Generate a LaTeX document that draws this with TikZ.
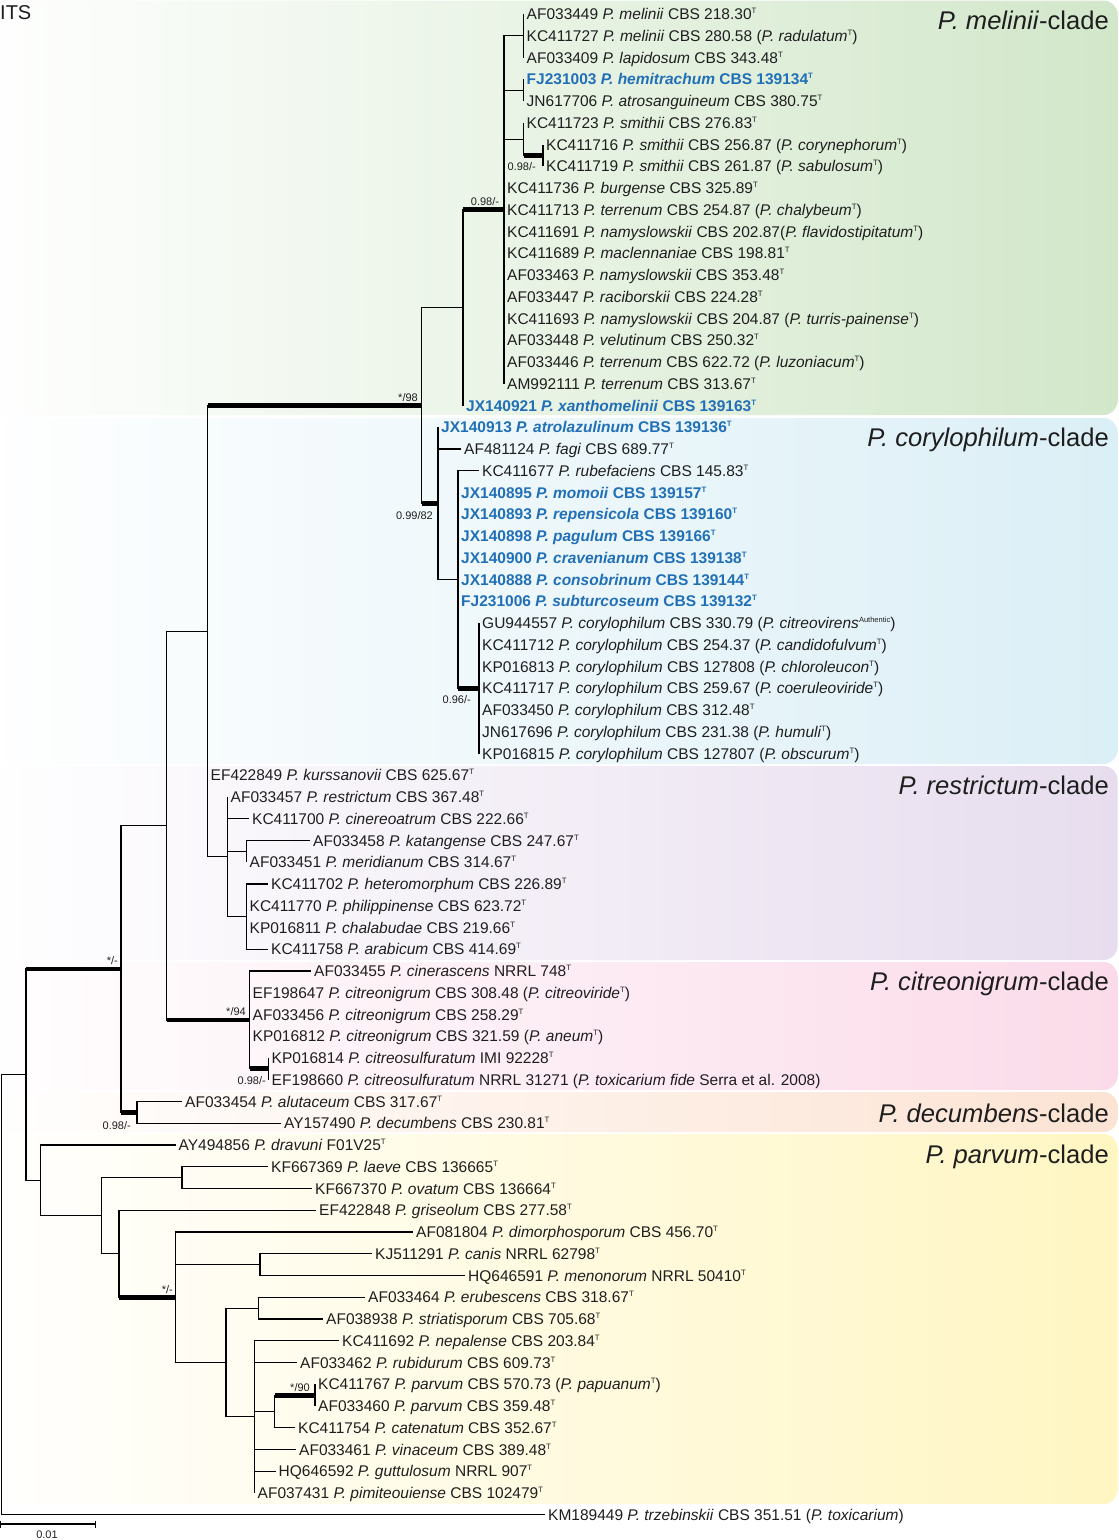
\documentclass[tikz,border=0pt]{standalone}
\usepackage{fontspec}
\setmainfont{Liberation Sans}
\definecolor{tblue}{RGB}{33,112,183}
\definecolor{ink}{RGB}{30,30,30}
\definecolor{cMel}{RGB}{210,231,202}
\definecolor{cCor}{RGB}{219,239,246}
\definecolor{cRes}{RGB}{231,221,238}
\definecolor{cCit}{RGB}{251,219,233}
\definecolor{cDec}{RGB}{252,227,211}
\definecolor{cPar}{RGB}{255,246,194}
\newcommand{\Ty}{\raisebox{5.9pt}{\fontsize{7.8}{8}\selectfont T}}
\newcommand{\Au}{\raisebox{5.9pt}{\fontsize{7.5}{8}\selectfont Authentic}}
\newcommand{\lfont}{\fontsize{15.5}{18}\selectfont}
\newcommand{\thk}[2]{\draw[br] (#1) |- (#2); \draw[tb] (#1 |- #2) -- (#2);}
\begin{document}
\begin{tikzpicture}[x=1pt,y=-1pt,
 leaf/.style={anchor=west, inner xsep=3pt, inner ysep=0pt, text height=11.1pt, text depth=0pt, font=\lfont, text=ink},
 nleaf/.style={leaf, text=tblue, font=\lfont\bfseries},
 br/.style={line width=1.1pt, draw=black},
 tb/.style={line width=4.8pt, draw=black},
 supp/.style={font=\fontsize{11}{12}\selectfont, inner sep=0pt, text=ink},
 clab/.style={anchor=base east, font=\fontsize{25.6}{28}\selectfont, inner sep=0pt, text=ink},
 panel/.style={rounded corners=14pt}]
\useasboundingbox (0,0) rectangle (1119,1540);
\fill[white] (0,0) rectangle (1119,1540);
% clade panels
\shade[panel, left color=white, right color=cMel] (-30,0.5) rectangle (1117.5,415);
\shade[panel, left color=white, right color=cCor] (-30,418) rectangle (1117.5,764);
\shade[panel, left color=white, right color=cRes] (-30,766) rectangle (1117.5,960);
\shade[panel, left color=white, right color=cCit] (-30,962) rectangle (1117.5,1090);
\shade[panel, left color=white, right color=cDec] (-30,1092) rectangle (1117.5,1132);
\shade[panel, left color=white, right color=cPar] (-30,1134) rectangle (1117.5,1504);
% clade labels
\node[clab] (kMel) at (1109,29.8) {\textit{P. melinii}-clade};
\node[clab] (kCor) at (1109,446.8) {\textit{P. corylophilum}-clade};
\node[clab] (kRes) at (1109,794.8) {\textit{P. restrictum}-clade};
\node[clab] (kCit) at (1109,990.8) {\textit{P. citreonigrum}-clade};
\node[clab] (kDec) at (1109,1122.8) {\textit{P. decumbens}-clade};
\node[clab] (kPar) at (1109,1163.8) {\textit{P. parvum}-clade};
\node[anchor=west, inner sep=0pt, font=\fontsize{20}{22}\selectfont, text=ink] (its) at (0,12.5) {ITS};
% leaves
\node[leaf] (l1) at (523.5,14) {AF033449 \textit{P. melinii} CBS 218.30\Ty};
\node[leaf] (l2) at (523.5,35.75) {KC411727 \textit{P. melinii} CBS 280.58 (\textit{P. radulatum}\Ty)};
\node[leaf] (l3) at (523.5,57.5) {AF033409 \textit{P. lapidosum} CBS 343.48\Ty};
\node[nleaf] (l4) at (523.5,79.25) {FJ231003 \textit{P. hemitrachum} CBS 139134\Ty};
\node[leaf] (l5) at (523.5,101) {JN617706 \textit{P. atrosanguineum} CBS 380.75\Ty};
\node[leaf] (l6) at (523.5,122.75) {KC411723 \textit{P. smithii} CBS 276.83\Ty};
\node[leaf] (l7) at (543,144.5) {KC411716 \textit{P. smithii} CBS 256.87 (\textit{P. corynephorum}\Ty)};
\node[leaf] (l8) at (543,166.25) {KC411719 \textit{P. smithii} CBS 261.87 (\textit{P. sabulosum}\Ty)};
\node[leaf] (l9) at (504,188) {KC411736 \textit{P. burgense} CBS 325.89\Ty};
\node[leaf] (l10) at (504,209.75) {KC411713 \textit{P. terrenum} CBS 254.87 (\textit{P. chalybeum}\Ty)};
\node[leaf] (l11) at (504,231.5) {KC411691 \textit{P. namyslowskii} CBS 202.87(\textit{P. flavidostipitatum}\Ty)};
\node[leaf] (l12) at (504,253.25) {KC411689 \textit{P. maclennaniae} CBS 198.81\Ty};
\node[leaf] (l13) at (504,275) {AF033463 \textit{P. namyslowskii} CBS 353.48\Ty};
\node[leaf] (l14) at (504,296.75) {AF033447 \textit{P. raciborskii} CBS 224.28\Ty};
\node[leaf] (l15) at (504,318.5) {KC411693 \textit{P. namyslowskii} CBS 204.87 (\textit{P. turris-painense}\Ty)};
\node[leaf] (l16) at (504,340.25) {AF033448 \textit{P. velutinum} CBS 250.32\Ty};
\node[leaf] (l17) at (504,362) {AF033446 \textit{P. terrenum} CBS 622.72 (\textit{P. luzoniacum}\Ty)};
\node[leaf] (l18) at (504,383.75) {AM992111 \textit{P. terrenum} CBS 313.67\Ty};
\node[nleaf] (l19) at (463,405.5) {JX140921 \textit{P. xanthomelinii} CBS 139163\Ty};
\node[nleaf] (l20) at (438,427.25) {JX140913 \textit{P. atrolazulinum} CBS 139136\Ty};
\node[leaf] (l21) at (461,449) {AF481124 \textit{P. fagi} CBS 689.77\Ty};
\node[leaf] (l22) at (479,470.75) {KC411677 \textit{P. rubefaciens} CBS 145.83\Ty};
\node[nleaf] (l23) at (458,492.5) {JX140895 \textit{P. momoii} CBS 139157\Ty};
\node[nleaf] (l24) at (458,514.25) {JX140893 \textit{P. repensicola} CBS 139160\Ty};
\node[nleaf] (l25) at (458,536) {JX140898 \textit{P. pagulum} CBS 139166\Ty};
\node[nleaf] (l26) at (458,557.75) {JX140900 \textit{P. cravenianum} CBS 139138\Ty};
\node[nleaf] (l27) at (458,579.5) {JX140888 \textit{P. consobrinum} CBS 139144\Ty};
\node[nleaf] (l28) at (458,601.25) {FJ231006 \textit{P. subturcoseum} CBS 139132\Ty};
\node[leaf] (l29) at (479,623) {GU944557 \textit{P. corylophilum} CBS 330.79 (\textit{P. citreovirens}\Au)};
\node[leaf] (l30) at (479,644.75) {KC411712 \textit{P. corylophilum} CBS 254.37 (\textit{P. candidofulvum}\Ty)};
\node[leaf] (l31) at (479,666.5) {KP016813 \textit{P. corylophilum} CBS 127808 (\textit{P. chloroleucon}\Ty)};
\node[leaf] (l32) at (479,688.25) {KC411717 \textit{P. corylophilum} CBS 259.67 (\textit{P. coeruleoviride}\Ty)};
\node[leaf] (l33) at (479,710) {AF033450 \textit{P. corylophilum} CBS 312.48\Ty};
\node[leaf] (l34) at (479,731.75) {JN617696 \textit{P. corylophilum} CBS 231.38 (\textit{P. humuli}\Ty)};
\node[leaf] (l35) at (479,753.5) {KP016815 \textit{P. corylophilum} CBS 127807 (\textit{P. obscurum}\Ty)};
\node[leaf] (l36) at (207.5,775.25) {EF422849 \textit{P. kurssanovii} CBS 625.67\Ty};
\node[leaf] (l37) at (227.5,797) {AF033457 \textit{P. restrictum} CBS 367.48\Ty};
\node[leaf] (l38) at (249,818.75) {KC411700 \textit{P. cinereoatrum} CBS 222.66\Ty};
\node[leaf] (l39) at (310,840.5) {AF033458 \textit{P. katangense} CBS 247.67\Ty};
\node[leaf] (l40) at (246.5,862.25) {AF033451 \textit{P. meridianum} CBS 314.67\Ty};
\node[leaf] (l41) at (268,884) {KC411702 \textit{P. heteromorphum} CBS 226.89\Ty};
\node[leaf] (l42) at (246.5,905.75) {KC411770 \textit{P. philippinense} CBS 623.72\Ty};
\node[leaf] (l43) at (246.5,927.5) {KP016811 \textit{P. chalabudae} CBS 219.66\Ty};
\node[leaf] (l44) at (268,949.25) {KC411758 \textit{P. arabicum} CBS 414.69\Ty};
\node[leaf] (l45) at (311,971) {AF033455 \textit{P. cinerascens} NRRL 748\Ty};
\node[leaf] (l46) at (249.5,992.75) {EF198647 \textit{P. citreonigrum} CBS 308.48 (\textit{P. citreoviride}\Ty)};
\node[leaf] (l47) at (249.5,1014.5) {AF033456 \textit{P. citreonigrum} CBS 258.29\Ty};
\node[leaf] (l48) at (249.5,1036.25) {KP016812 \textit{P. citreonigrum} CBS 321.59 (\textit{P. aneum}\Ty)};
\node[leaf] (l49) at (268.5,1058) {KP016814 \textit{P. citreosulfuratum} IMI 92228\Ty};
\node[leaf] (l50) at (268.5,1079.75) {EF198660 \textit{P. citreosulfuratum} NRRL 31271 (\textit{P. toxicarium fide} Serra et al. 2008)};
\node[leaf] (l51) at (182,1101.5) {AF033454 \textit{P. alutaceum} CBS 317.67\Ty};
\node[leaf] (l52) at (281,1123.25) {AY157490 \textit{P. decumbens} CBS 230.81\Ty};
\node[leaf] (l53) at (175.5,1145) {AY494856 \textit{P. dravuni} F01V25\Ty};
\node[leaf] (l54) at (268,1166.75) {KF667369 \textit{P. laeve} CBS 136665\Ty};
\node[leaf] (l55) at (312,1188.5) {KF667370 \textit{P. ovatum} CBS 136664\Ty};
\node[leaf] (l56) at (316,1210.25) {EF422848 \textit{P. griseolum} CBS 277.58\Ty};
\node[leaf] (l57) at (413,1232) {AF081804 \textit{P. dimorphosporum} CBS 456.70\Ty};
\node[leaf] (l58) at (372,1253.75) {KJ511291 \textit{P. canis} NRRL 62798\Ty};
\node[leaf] (l59) at (465,1275.5) {HQ646591 \textit{P. menonorum} NRRL 50410\Ty};
\node[leaf] (l60) at (365,1297.25) {AF033464 \textit{P. erubescens} CBS 318.67\Ty};
\node[leaf] (l61) at (323,1319) {AF038938 \textit{P. striatisporum} CBS 705.68\Ty};
\node[leaf] (l62) at (339,1340.75) {KC411692 \textit{P. nepalense} CBS 203.84\Ty};
\node[leaf] (l63) at (297,1362.5) {AF033462 \textit{P. rubidurum} CBS 609.73\Ty};
\node[leaf] (l64) at (315,1384.25) {KC411767 \textit{P. parvum} CBS 570.73 (\textit{P. papuanum}\Ty)};
\node[leaf] (l65) at (315,1406) {AF033460 \textit{P. parvum} CBS 359.48\Ty};
\node[leaf] (l66) at (295,1427.75) {KC411754 \textit{P. catenatum} CBS 352.67\Ty};
\node[leaf] (l67) at (296,1449.5) {AF033461 \textit{P. vinaceum} CBS 389.48\Ty};
\node[leaf] (l68) at (275.5,1471.25) {HQ646592 \textit{P. guttulosum} NRRL 907\Ty};
\node[leaf] (l69) at (254.5,1493) {AF037431 \textit{P. pimiteouiense} CBS 102479\Ty};
\node[leaf] (l70) at (545,1514.75) {KM189449 \textit{P. trzebinskii} CBS 351.51 (\textit{P. toxicarium})};
% internal nodes
\coordinate (mA) at (523.5,35.75);
\coordinate (mB) at (523.5,90.125);
\coordinate (mD) at (543,155.375);
\coordinate (mC) at (523.5,139.06);
\coordinate (mP) at (504,209.75);
\coordinate (mM) at (463,307.625);
\coordinate (cE) at (479,688.25);
\coordinate (cD) at (458,579.5);
\coordinate (cC) at (438,503.375);
\coordinate (cB) at (421.5,405.5);
\coordinate (rA) at (246.5,851.375);
\coordinate (rB) at (246.5,916.625);
\coordinate (rR) at (227.5,856.81);
\coordinate (n1) at (207.5,631.16);
\coordinate (tB) at (268.5,1068.875);
\coordinate (tA) at (249.5,1019.94);
\coordinate (n2) at (166.5,825.55);
\coordinate (dA) at (137,1112.375);
\coordinate (n3) at (121,968.96);
\coordinate (pB) at (182,1177.625);
\coordinate (pF) at (260,1264.625);
\coordinate (pI) at (315,1395.125);
\coordinate (pH) at (274.5,1411.44);
\coordinate (pG2) at (258.5,1308.125);
\coordinate (pJ) at (254.5,1416.875);
\coordinate (pG) at (226,1362.5);
\coordinate (pE) at (175.5,1297.25);
\coordinate (pD) at (119,1253.75);
\coordinate (pC) at (101.5,1215.69);
\coordinate (pA) at (40.5,1180.34);
\coordinate (n4) at (26,1074.65);
\coordinate (root) at (1.5,1294.7);
% branches to leaves
\foreach \c in {l1,l2,l3} \draw[br] (mA) |- (\c.west);
\foreach \c in {l4,l5} \draw[br] (mB) |- (\c.west);
\draw[br] (mC) |- (l6.west);
\foreach \c in {l7,l8} \draw[br] (mD) |- (\c.west);
\foreach \c in {l9,l10,l11,l12,l13,l14,l15,l16,l17,l18} \draw[br] (mP) |- (\c.west);
\draw[br] (mM) |- (l19.west);
\foreach \c in {l20,l21} \draw[br] (cC) |- (\c.west);
\foreach \c in {l22,l23,l24,l25,l26,l27,l28} \draw[br] (cD) |- (\c.west);
\foreach \c in {l29,l30,l31,l32,l33,l34,l35} \draw[br] (cE) |- (\c.west);
\draw[br] (n1) |- (l36.west);
\foreach \c in {l37,l38} \draw[br] (rR) |- (\c.west);
\foreach \c in {l39,l40} \draw[br] (rA) |- (\c.west);
\foreach \c in {l41,l42,l43,l44} \draw[br] (rB) |- (\c.west);
\foreach \c in {l45,l46,l47,l48} \draw[br] (tA) |- (\c.west);
\foreach \c in {l49,l50} \draw[br] (tB) |- (\c.west);
\foreach \c in {l51,l52} \draw[br] (dA) |- (\c.west);
\draw[br] (pA) |- (l53.west);
\foreach \c in {l54,l55} \draw[br] (pB) |- (\c.west);
\draw[br] (pD) |- (l56.west);
\draw[br] (pE) |- (l57.west);
\foreach \c in {l58,l59} \draw[br] (pF) |- (\c.west);
\foreach \c in {l60,l61} \draw[br] (pG2) |- (\c.west);
\foreach \c in {l62,l63,l67,l68,l69} \draw[br] (pJ) |- (\c.west);
\draw[br] (pH) |- (l66.west);
\foreach \c in {l64,l65} \draw[br] (pI) |- (\c.west);
\draw[br] (root) |- (l70.west);
% internal branches
\foreach \a/\b in {mP/mA,mP/mB,mP/mC,cC/cD,n1/rR,rR/rA,rR/rB,n2/n1,n3/n2,n4/pA,pA/pC,pC/pB,pC/pD,pE/pF,pE/pG,pG/pG2,pG/pJ,pJ/pH,root/n4}
  \draw[br] (\a) |- (\b);
\thk{mC}{mD}
\thk{mM}{mP}
\draw[br] (cB) |- (mM);
\thk{cB}{cC}
\thk{cD}{cE}
\thk{n1}{cB}
\thk{n2}{tA}
\thk{tA}{tB}
\thk{n3}{dA}
\thk{n4}{n3}
\thk{pD}{pE}
\thk{pH}{pI}
% support values
\node[supp, anchor=east] (s1) at (536,166.5) {0.98/-};
\node[supp, anchor=south] (s2) at (485,206) {0.98/-};
\node[supp, anchor=south east] (s3) at (418,402) {*/98};
\node[supp, anchor=east] (s4) at (433,516) {0.99/82};
\node[supp, anchor=east] (s5) at (471,700) {0.96/-};
\node[supp, anchor=south east] (s6) at (246,1016) {*/94};
\node[supp, anchor=east] (s7) at (266,1080.5) {0.98/-};
\node[supp, anchor=east] (s8) at (131,1125.5) {0.98/-};
\node[supp, anchor=south east] (s9) at (118,965) {*/-};
\node[supp, anchor=south east] (s10) at (173,1294) {*/-};
\node[supp, anchor=south east] (s11) at (310,1392) {*/90};
% scale bar
\draw[br] (0.7,1524) -- (95.5,1524);
\draw[br] (0.7,1520.5) -- (0.7,1528);
\draw[br] (95.5,1520.5) -- (95.5,1528);
\node[supp] (sc) at (47,1535) {0.01};
\end{tikzpicture}
\end{document}
